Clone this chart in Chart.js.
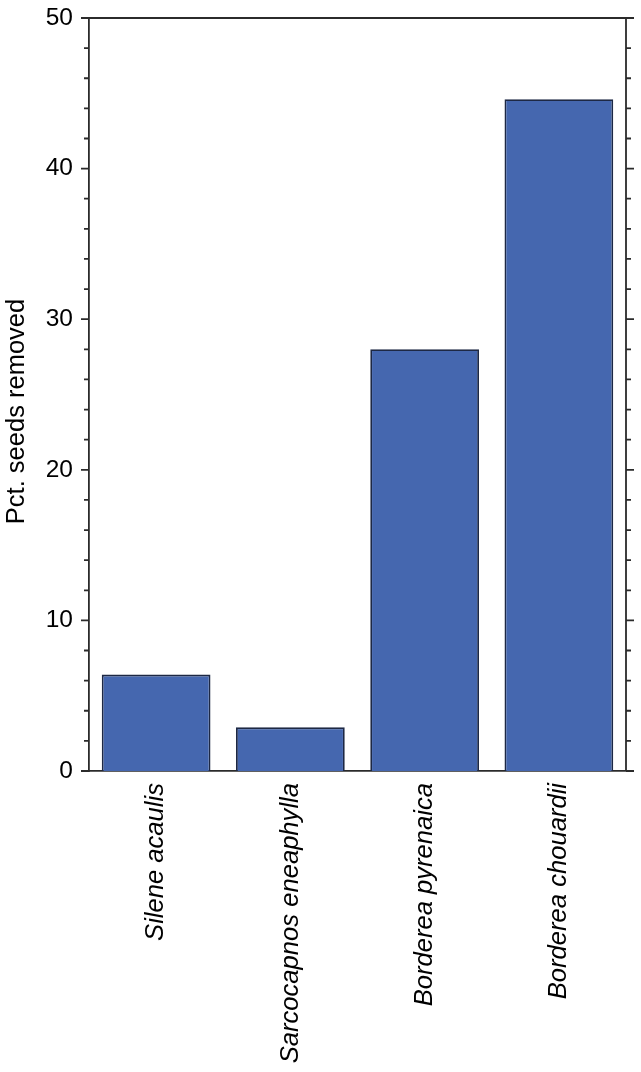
<!DOCTYPE html>
<html>
<head>
<meta charset="utf-8">
<script src="https://cdn.jsdelivr.net/npm/chart.js@4"></script>
<style>
  html, body { margin: 0; padding: 0; background: #fff; }
  #wrap { width: 641px; height: 1072px; }
</style>
</head>
<body>
<div id="wrap"><canvas id="chart" width="641" height="1072"></canvas></div>
<script>
const categories = ['Silene acaulis', 'Sarcocapnos eneaphylla', 'Borderea pyrenaica', 'Borderea chouardii'];
const pctRemoved = [6.4, 2.9, 28.0, 44.6];
const yMin = 0, yMax = 50, yMinorStep = 2, yMajorStep = 10;
const yTitle = 'Pct. seeds removed';

const AXIS_COLOR = '#2b2b2b';
const FONT = "'Liberation Sans', Arial, sans-serif";

// frame: top + right lines, ticks pointing outward on both sides, y title
const frameTicks = {
    id: 'frameTicks',
    afterDraw(chart) {
        const { ctx, chartArea: a } = chart;
        const y = chart.scales.y;
        ctx.save();
        ctx.strokeStyle = AXIS_COLOR;
        ctx.lineWidth = 1.8;
        ctx.beginPath();
        ctx.moveTo(a.left, a.top);
        ctx.lineTo(a.right, a.top);
        ctx.moveTo(a.right, a.top);
        ctx.lineTo(a.right, a.bottom);
        y.ticks.forEach(t => {
            const py = y.getPixelForValue(t.value);
            const len = t.value % yMajorStep === 0 ? 8 : 5;
            ctx.moveTo(a.left - len, py);
            ctx.lineTo(a.left, py);
            ctx.moveTo(a.right, py);
            ctx.lineTo(a.right + len, py);
        });
        ctx.stroke();

        // axis title sits a bit below the middle of the axis in the original
        ctx.translate(17, (a.top + a.bottom) / 2 + 17);
        ctx.rotate(-Math.PI / 2);
        ctx.fillStyle = '#000';
        ctx.font = "25.5px " + FONT;
        ctx.textAlign = 'center';
        ctx.textBaseline = 'middle';
        ctx.fillText(yTitle, 0, 0);
        ctx.restore();
    }
};

new Chart(document.getElementById('chart'), {
    type: 'bar',
    data: {
        labels: categories,
        datasets: [{
            data: pctRemoved,
            backgroundColor: '#4567AF',
            borderColor: '#1d2844',
            borderWidth: 1.8,
            barPercentage: 0.81,
            categoryPercentage: 1
        }]
    },
    options: {
        responsive: false,
        animation: false,
        layout: { padding: { top: 18, right: 15, left: 0, bottom: 0 } },
        plugins: { legend: { display: false }, tooltip: { enabled: false } },
        scales: {
            x: {
                grid: { display: false, drawTicks: false },
                border: { display: true, color: AXIS_COLOR, width: 1.8 },
                ticks: {
                    color: '#000',
                    font: { family: FONT, size: 25.6, style: 'italic' },
                    minRotation: 90, maxRotation: 90,
                    padding: 12,
                    autoSkip: false
                },
                afterFit(scale) { scale.height = 301; }
            },
            y: {
                min: yMin, max: yMax,
                grid: { display: false, drawTicks: false },
                border: { display: true, color: AXIS_COLOR, width: 1.8 },
                ticks: {
                    stepSize: yMinorStep,
                    autoSkip: false,
                    color: '#000',
                    padding: 16,
                    font: { family: FONT, size: 24.5 },
                    callback: v => (v % yMajorStep === 0 ? v : '')
                },
                afterFit(scale) {
                    scale.width = 89;
                    scale.paddingTop = 0;
                    scale.paddingBottom = 0;
                }
            }
        }
    },
    plugins: [frameTicks]
});
</script>
</body>
</html>
